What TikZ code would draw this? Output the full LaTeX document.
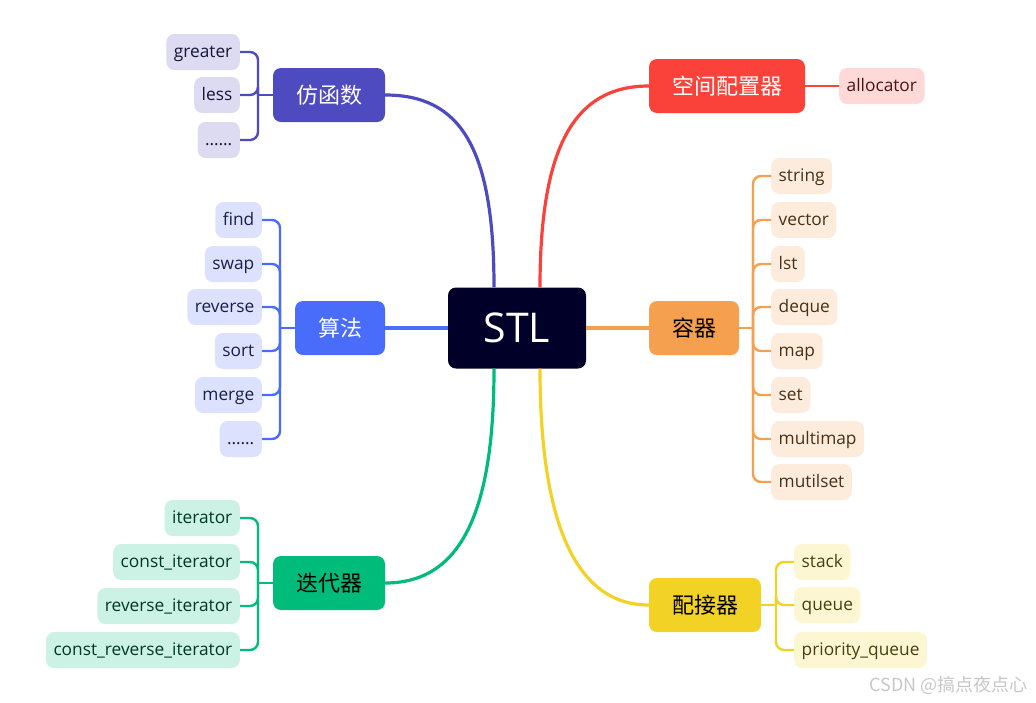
\documentclass[tikz,border=0pt]{standalone}
\usepackage{fontspec}
\setmainfont{Open Sans}
\newfontfamily\cjk{Noto Sans CJK SC}
\usepackage{tikz}
\usetikzlibrary{positioning,calc}
\definecolor{hubBg}{HTML}{000028}
\definecolor{fun}{HTML}{4E4AC0}
\definecolor{funLt}{HTML}{DCDBF1}
\definecolor{alg}{HTML}{4A6CFB}
\definecolor{algLt}{HTML}{DCE2FE}
\definecolor{itr}{HTML}{00BC7B}
\definecolor{itrLt}{HTML}{CCF2E5}
\definecolor{alc}{HTML}{FA423A}
\definecolor{alcLt}{HTML}{FFD9D8}
\definecolor{ctr}{HTML}{F5A04E}
\definecolor{ctrLt}{HTML}{FDECDC}
\definecolor{adp}{HTML}{F2D224}
\definecolor{adpLt}{HTML}{FDF6D3}
\tikzset{
  hub/.style={fill=hubBg, rounded corners=8pt, minimum width=138pt, minimum height=81pt, text=white, font=\fontsize{41}{44}\selectfont},
  branch/.style={fill=#1, rounded corners=8pt, minimum height=54pt, inner xsep=23pt, font=\cjk\fontsize{22}{26}\selectfont},
  leaf/.style={fill=#1Lt, text=#1!30!black, rounded corners=8pt, minimum height=36pt, inner xsep=7.5pt, text height=12pt, text depth=1pt, font=\fontsize{17.3}{19}\selectfont},
  trunk/.style={draw=#1, line width=3.2pt},
  twig/.style={draw=#1, line width=2.4pt, rounded corners=8pt}
}
% leaf left of its branch: position, name, text, joint, colour
\newcommand{\lleaf}[5]{%
 \node[leaf=#5, anchor=east] (#2) at (#1) {#3};%
 \draw[twig=#5] (#2.east) -| (#4);}
% leaf right of its branch
\newcommand{\rleaf}[5]{%
 \node[leaf=#5, anchor=west] (#2) at (#1) {#3};%
 \draw[twig=#5] (#2.west) -| (#4);}

\begin{document}
\begin{tikzpicture}[x=1pt, y=-1pt]
\useasboundingbox (0,0) rectangle (1036,702);

\node[hub] (stl) at (517,328) {STL};
\node[branch=fun, text=white] (fhs) at (329,95) {仿函数};
\node[branch=alg, text=white] (sf) at (340,328) {算法};
\node[branch=itr, text=black] (ddq) at (329,583) {迭代器};
\node[branch=alc, text=white] (pzq) at (727,86) {空间配置器};
\node[branch=ctr, text=black] (rq) at (694,328) {容器};
\node[branch=adp, text=black] (pjq) at (705,605) {配接器};

% hub to branches
\draw[trunk=fun] ([xshift=-23pt]stl.north) .. controls +(0,-140) and +(75,0) .. (fhs.east);
\draw[trunk=alc] ([xshift=23pt]stl.north) .. controls +(0,-140) and +(-75,0) .. (pzq.west);
\draw[trunk=alg] (stl.west) -- (sf.east);
\draw[trunk=ctr] (stl.east) -- (rq.west);
\draw[trunk=itr] ([xshift=-23pt]stl.south) .. controls +(0,145) and +(75,0) .. (ddq.east);
\draw[trunk=adp] ([xshift=23pt]stl.south) .. controls +(0,150) and +(-75,0) .. (pjq.west);

% joints
\coordinate (fj) at (258,95);
\coordinate (aj) at (280,328);
\coordinate (ij) at (258,583);
\coordinate (cj) at (753,328);
\coordinate (pj) at (776,605);
\draw[twig=fun] (fhs.west) -- (fj);
\draw[twig=alg] (sf.west) -- (aj);
\draw[twig=itr] (ddq.west) -- (ij);
\draw[twig=ctr] (rq.east) -- (cj);
\draw[twig=adp] (pjq.east) -- (pj);

% 仿函数
\lleaf{240,52}{f1}{greater}{fj}{fun}
\lleaf{240,95}{f2}{less}{fj}{fun}
\lleaf{240,140}{f3}{……}{fj}{fun}

% 算法
\lleaf{262,220}{a1}{find}{aj}{alg}
\lleaf{262,264}{a2}{swap}{aj}{alg}
\lleaf{262,307}{a3}{reverse}{aj}{alg}
\lleaf{262,351}{a4}{sort}{aj}{alg}
\lleaf{262,395}{a5}{merge}{aj}{alg}
\lleaf{262,439}{a6}{……}{aj}{alg}

% 迭代器
\lleaf{240,518}{i1}{iterator}{ij}{itr}
\lleaf{240,562}{i2}{const\_iterator}{ij}{itr}
\lleaf{240,606}{i3}{reverse\_iterator}{ij}{itr}
\lleaf{240,650}{i4}{const\_reverse\_iterator}{ij}{itr}

% 空间配置器
\node[leaf=alc, anchor=west] (al1) at (839,86) {allocator};
\draw[twig=alc] (pzq.east) -- (al1.west);

% 容器
\rleaf{771,176}{c1}{string}{cj}{ctr}
\rleaf{771,220}{c2}{vector}{cj}{ctr}
\rleaf{771,264}{c3}{lst}{cj}{ctr}
\rleaf{771,307}{c4}{deque}{cj}{ctr}
\rleaf{771,351}{c5}{map}{cj}{ctr}
\rleaf{771,395}{c6}{set}{cj}{ctr}
\rleaf{771,439}{c7}{multimap}{cj}{ctr}
\rleaf{771,482}{c8}{mutilset}{cj}{ctr}

% 配接器
\rleaf{794,562}{p1}{stack}{pj}{adp}
\rleaf{794,605}{p2}{queue}{pj}{adp}
\rleaf{794,650}{p3}{priority\_queue}{pj}{adp}

\node[anchor=east, text=black!22, font=\cjk\fontsize{18}{20}\selectfont] (mark) at (1031,685) {CSDN @搞点夜点心};
\end{tikzpicture}
\end{document}
